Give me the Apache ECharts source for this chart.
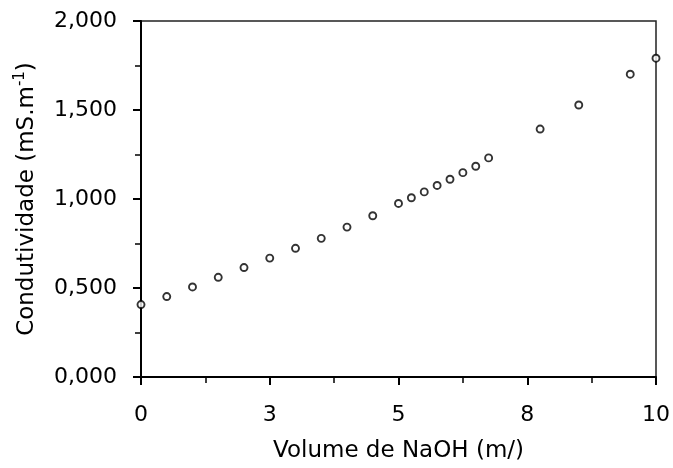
<!DOCTYPE html>
<html>
<head>
<meta charset="utf-8">
<script src="https://cdn.jsdelivr.net/npm/echarts@6/dist/echarts.min.js"></script>
<style>
  html, body { margin: 0; padding: 0; background: #fff; }
  #chart { width: 673px; height: 468px; }
</style>
</head>
<body>
<div id="chart"></div>
<script>
// volume de NaOH adicionado
var volumes = [0, 0.5, 1, 1.5, 2, 2.5, 3, 3.5, 4, 4.5, 5, 5.25, 5.5, 5.75, 6, 6.25, 6.5, 6.75, 7.75, 8.5, 9.5, 10];
// condutividade medida
var condutividade = [0.407, 0.452, 0.506, 0.560, 0.615, 0.668, 0.723, 0.779, 0.842, 0.906, 0.975, 1.007, 1.040, 1.076, 1.111, 1.148, 1.184, 1.231, 1.393, 1.528, 1.701, 1.791];

var FONT = 'DejaVu Sans';

var pontos = [];
for (var i = 0; i < volumes.length; i++) {
    pontos.push([volumes[i], condutividade[i]]);
}

var myChart = echarts.init(document.getElementById('chart'));

var option = {
    animation: false,
    backgroundColor: '#fff',
    grid: {
        left: 141,
        right: 15,
        top: 21,
        bottom: 90,
        show: true,
        borderColor: '#222',
        borderWidth: 1.5
    },
    xAxis: {
        type: 'value',
        min: 0,
        max: 10,
        interval: 2.5,
        name: 'Volume de NaOH (m/)',
        nameLocation: 'middle',
        nameGap: 63,
        nameTextStyle: { fontFamily: FONT, fontSize: 23, color: '#000' },
        axisLine: { onZero: false, lineStyle: { color: '#000', width: 2 } },
        axisTick: { inside: false, length: 8, lineStyle: { color: '#000', width: 2 } },
        minorTick: { show: true, splitNumber: 2, length: 6, lineStyle: { color: '#000', width: 1.5 } },
        splitLine: { show: false },
        axisLabel: {
            margin: 27,
            fontFamily: FONT,
            fontSize: 22,
            color: '#000',
            formatter: function (v) { return String(Math.round(v)); }
        }
    },
    yAxis: {
        type: 'value',
        min: 0,
        max: 2,
        interval: 0.5,
        name: '{n|Condutividade (mS.m}{s|-1}{n|)}',
        nameLocation: 'middle',
        nameGap: 99,
        nameTextStyle: {
            fontFamily: FONT,
            fontSize: 23,
            color: '#000',
            rich: {
                n: { fontFamily: FONT, fontSize: 23, color: '#000' },
                s: { fontFamily: FONT, fontSize: 15, color: '#000', verticalAlign: 'top', padding: [0, 0, 14, 0] }
            }
        },
        axisLine: { onZero: false, lineStyle: { color: '#000', width: 2 } },
        axisTick: { inside: false, length: 8, lineStyle: { color: '#000', width: 2 } },
        minorTick: { show: true, splitNumber: 2, length: 6, lineStyle: { color: '#000', width: 1.5 } },
        splitLine: { show: false },
        axisLabel: {
            margin: 24,
            fontFamily: FONT,
            fontSize: 22,
            color: '#000',
            formatter: function (v) { return v.toFixed(3).replace('.', ','); }
        }
    },
    series: [
        {
            type: 'scatter',
            data: pontos,
            symbol: 'circle',
            symbolSize: 7,
            clip: false,
            itemStyle: {
                color: '#fff',
                borderColor: '#000',
                borderWidth: 1.9
            }
        }
    ]
};
option && myChart.setOption(option);
</script>
</body>
</html>
